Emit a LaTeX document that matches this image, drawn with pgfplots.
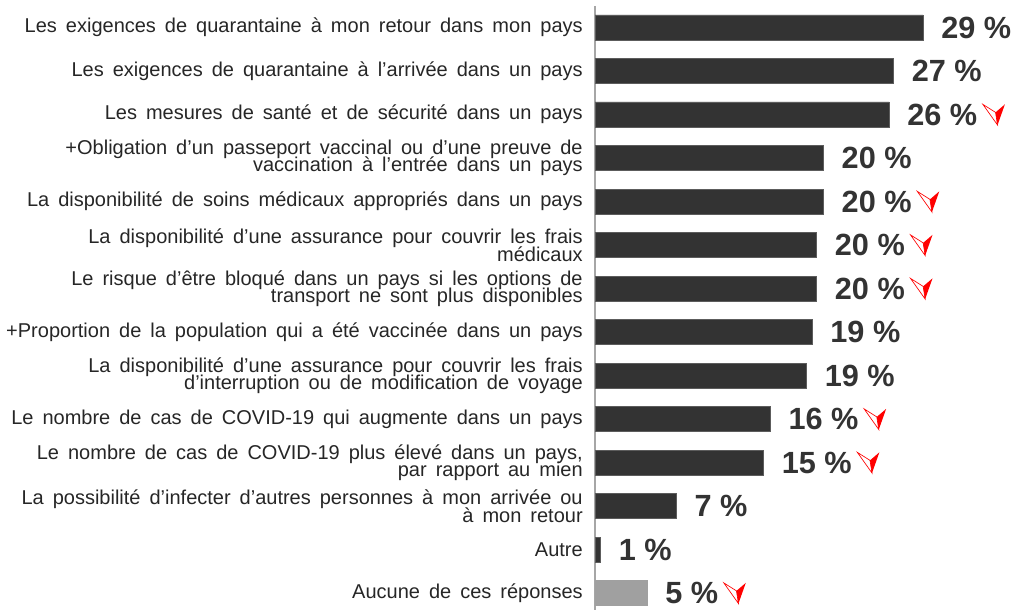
\documentclass[border=0pt]{standalone}
\usepackage{pgfplots}
\pgfplotsset{compat=1.18}
\usepackage{fontspec}
\setmainfont{Liberation Sans}
\newfontfamily\labelfont{Liberation Sans}[WordSpace=1.62]
\newcommand\lblfont{\labelfont\fontsize{15}{13.2}\selectfont\lineskiplimit=-30pt\relax\lineskip=0pt\relax}
\definecolor{bardark}{HTML}{333333}
\definecolor{bargray}{HTML}{A0A0A0}
\definecolor{axgray}{HTML}{A6A6A6}
\definecolor{txt}{HTML}{262626}
\definecolor{arrowred}{HTML}{FF0000}
\newsavebox\arrowbox
\protected\def\arr{\hspace{4pt}\usebox\arrowbox}
\begin{document}
\sbox\arrowbox{\tikz[baseline=0pt,x=1pt,y=1pt]{%
 \fill[arrowred] (9.5,9.5) -- (16.5,15.5) -- (11,0) -- cycle;
 \draw[arrowred, line width=0.5pt, line join=miter] (0,15.5) -- (9.5,9.5) -- (11,0) -- cycle;}}%
\begin{tikzpicture}
\path[use as bounding box] (0,0) rectangle (762.75pt,457.5pt);
\begin{axis}[
  at={(446.25pt,0pt)}, anchor=south west,
  scale only axis, width=313.5pt, height=453pt,
  xmin=0, xmax=36.96, ymin=-0.494, ymax=13.39, y dir=reverse,
  xbar, bar width=18.75pt, bar shift=0pt,
  axis x line=none, axis y line*=left,
  axis line style={-, draw=axgray, line width=1pt},
  ytick={0,...,13},
  yticklabels={
    {Les exigences de quarantaine à mon retour dans mon pays},
    {Les exigences de quarantaine à l’arrivée dans un pays},
    {Les mesures de santé et de sécurité dans un pays},
    {+Obligation d’un passeport vaccinal ou d’une preuve de\\vaccination à l’entrée dans un pays},
    {La disponibilité de soins médicaux appropriés dans un pays},
    {La disponibilité d’une assurance pour couvrir les frais\\médicaux},
    {Le risque d’être bloqué dans un pays si les options de\\transport ne sont plus disponibles},
    {+Proportion de la population qui a été vaccinée dans un pays},
    {La disponibilité d’une assurance pour couvrir les frais\\d’interruption ou de modification de voyage},
    {Le nombre de cas de COVID-19 qui augmente dans un pays},
    {Le nombre de cas de COVID-19 plus élevé dans un pays,\\par rapport au mien},
    {La possibilité d’infecter d’autres personnes à mon arrivée ou\\à mon retour},
    {Autre},
    {Aucune de ces réponses}},
  ytick style={draw=none}, major tick length=0pt,
  yticklabel style={anchor=east, align=right, inner sep=0pt, xshift=-9pt,
    font=\lblfont, text=txt},
  clip=false,
  point meta=explicit symbolic,
  nodes near coords={\pgfplotspointmeta},
  every node near coord/.append style={anchor=west, inner sep=0pt, xshift=13.5pt,
    font=\fontsize{23}{23}\selectfont\bfseries, text=bardark},
]
\addplot[fill=bardark, draw=bardark!80!white, line width=0.4pt] coordinates {
  (29.0,0) [29 \%]
  (26.4,1) [27 \%]
  (26.0,2) [26 \%\arr]
  (20.2,3) [20 \%]
  (20.2,4) [20 \%\arr]
  (19.6,5) [20 \%\arr]
  (19.6,6) [20 \%\arr]
  (19.2,7) [19 \%]
  (18.7,8) [19 \%]
  (15.5,9) [16 \%\arr]
  (14.9,10) [15 \%\arr]
  (7.2,11) [7 \%]
  (0.5,12) [1 \%]
};
\addplot[fill=bargray, draw=bargray, line width=0.4pt] coordinates {
  (4.6,13) [5 \%\arr]
};
\end{axis}
\end{tikzpicture}
\end{document}
